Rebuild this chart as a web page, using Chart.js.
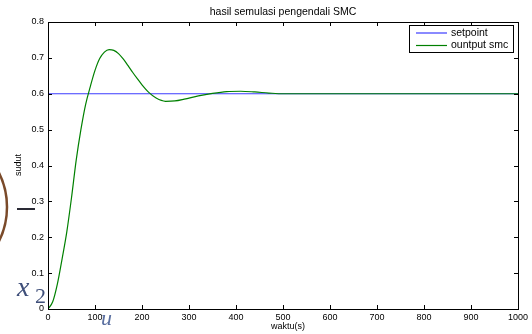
<!DOCTYPE html>
<html lang="en">
  <head>
    <meta charset="UTF-8" />
    <title>hasil semulasi pengendali SMC</title>
    <style>
      html, body { margin: 0; padding: 0; background: #fff; }
      #wrap { width: 532px; height: 334px; }
    </style>
  </head>
  <body>
    <div id="wrap"><canvas id="mychart" width="532" height="334"></canvas></div>

    <script src="https://cdn.jsdelivr.net/npm/chart.js@4.4.1/dist/chart.umd.min.js"></script>
    <script>
      // waktu (s) dan keluaran SMC
      const waktu = [0, 10, 20, 30, 40, 50, 60, 70, 80, 90, 100, 110, 120, 130, 140, 150, 160, 170, 180, 190, 200, 215, 230, 250, 270, 290, 320, 350, 380, 410, 440, 470, 500, 600, 700, 800, 900, 1000];
      const output = [0, 0.02, 0.07, 0.14, 0.215, 0.31, 0.415, 0.5, 0.57, 0.62, 0.665, 0.698, 0.716, 0.723, 0.721, 0.712, 0.697, 0.679, 0.66, 0.642, 0.625, 0.603, 0.588, 0.579, 0.58, 0.585, 0.594, 0.601, 0.606, 0.607, 0.605, 0.602, 0.6, 0.6, 0.6, 0.6, 0.6, 0.6];
      const setpointWaktu = [0, 1000];
      const setpointNilai = [0.6, 0.6];
      const xTicks = [0, 100, 200, 300, 400, 500, 600, 700, 800, 900, 1000];
      const yTicks = [0, 0.1, 0.2, 0.3, 0.4, 0.5, 0.6, 0.7, 0.8];

      const toPoints = (xs, ys) => xs.map((x, i) => ({ x: x, y: ys[i] }));

      // bingkai + tick ke dalam ala MATLAB, judul, label sumbu, legenda
      const matlabFrame = {
        id: "matlabFrame",
        beforeDraw(chart) {
          const ctx = chart.ctx;
          ctx.save();
          // sisa gambar persamaan di belakang grafik
          ctx.strokeStyle = "#7a4a2a";
          ctx.lineWidth = 2.5;
          ctx.beginPath();
          ctx.arc(-69.6, 207, 76.6, -0.6, 0.6);
          ctx.stroke();
          ctx.fillStyle = "#2a2a35";
          ctx.fillRect(17, 208, 18, 2);
          ctx.fillStyle = "#3f4f7a";
          ctx.textBaseline = "alphabetic";
          ctx.font = "italic 28px 'Liberation Serif', serif";
          ctx.fillText("x", 17, 296);
          ctx.font = "22px 'Liberation Serif', serif";
          ctx.fillText("2", 35, 303);
          ctx.font = "italic 22px 'Liberation Serif', serif";
          ctx.fillStyle = "#5a6fa0";
          ctx.fillText("u", 101, 325);
          ctx.restore();
        },
        afterDraw(chart) {
          const ctx = chart.ctx;
          const a = chart.chartArea;
          const xs = chart.scales.x;
          const ys = chart.scales.y;
          ctx.save();
          ctx.strokeStyle = "#000";
          ctx.lineWidth = 1;
          ctx.strokeRect(Math.round(a.left) + 0.5, Math.round(a.top) + 0.5, Math.round(a.right - a.left), Math.round(a.bottom - a.top));
          ctx.beginPath();
          xTicks.forEach((v) => {
            const px = Math.round(xs.getPixelForValue(v)) + 0.5;
            ctx.moveTo(px, a.bottom);
            ctx.lineTo(px, a.bottom - 4);
            ctx.moveTo(px, a.top);
            ctx.lineTo(px, a.top + 4);
          });
          yTicks.forEach((v) => {
            const py = Math.round(ys.getPixelForValue(v)) + 0.5;
            ctx.moveTo(a.left, py);
            ctx.lineTo(a.left + 4, py);
            ctx.moveTo(a.right, py);
            ctx.lineTo(a.right - 4, py);
          });
          ctx.stroke();

          ctx.fillStyle = "#000";
          ctx.textAlign = "center";
          ctx.textBaseline = "middle";
          ctx.font = "10.5px 'Liberation Sans', Arial, sans-serif";
          ctx.fillText("hasil semulasi pengendali SMC", (a.left + a.right) / 2, 12);
          ctx.font = "9px 'Liberation Sans', Arial, sans-serif";
          ctx.fillText("waktu(s)", 288, 327);
          ctx.save();
          ctx.translate(19, 165);
          ctx.rotate(-Math.PI / 2);
          ctx.fillText("sudut", 0, 0);
          ctx.restore();

          // legenda
          ctx.fillStyle = "#fff";
          ctx.fillRect(409.5, 25.5, 104, 27);
          ctx.strokeStyle = "#000";
          ctx.lineWidth = 1;
          ctx.strokeRect(409.5, 25.5, 104, 27);
          ctx.lineWidth = 1.2;
          ctx.strokeStyle = "rgb(60,60,255)";
          ctx.beginPath();
          ctx.moveTo(416, 33);
          ctx.lineTo(447, 33);
          ctx.stroke();
          ctx.strokeStyle = "rgb(0,128,0)";
          ctx.beginPath();
          ctx.moveTo(416, 45.5);
          ctx.lineTo(447, 45.5);
          ctx.stroke();
          ctx.fillStyle = "#000";
          ctx.textAlign = "left";
          ctx.font = "10.5px 'Liberation Sans', Arial, sans-serif";
          ctx.fillText("setpoint", 451, 33);
          ctx.fillText("ountput smc", 451, 45.5);
          ctx.restore();
        },
      };

      new Chart(document.getElementById("mychart"), {
        type: "line",
        data: {
          datasets: [
            {
              label: "setpoint",
              data: toPoints(setpointWaktu, setpointNilai),
              borderColor: "rgb(60,60,255)",
              borderWidth: 1.2,
              pointRadius: 0,
              tension: 0,
              order: 2,
            },
            {
              label: "ountput smc",
              data: toPoints(waktu, output),
              borderColor: "rgb(0,128,0)",
              borderWidth: 1.2,
              pointRadius: 0,
              cubicInterpolationMode: "monotone",
              order: 1,
            },
          ],
        },
        options: {
          responsive: false,
          animation: false,
          layout: { padding: { top: 22, right: 14, left: 0, bottom: 0 } },
          plugins: {
            legend: { display: false },
            tooltip: { enabled: false },
          },
          scales: {
            x: {
              type: "linear",
              min: 0,
              max: 1000,
              grid: { display: false, tickLength: 0 },
              border: { display: false },
              afterBuildTicks: (s) => { s.ticks = xTicks.map((v) => ({ value: v })); },
              afterFit: (s) => { s.height = 25; },
              ticks: {
                padding: 3,
                color: "#000",
                maxRotation: 0,
                font: { size: 9, family: "'Liberation Sans', Arial, sans-serif" },
                callback: (v) => String(v),
              },
            },
            y: {
              min: 0,
              max: 0.8,
              grid: { display: false, tickLength: 0 },
              border: { display: false },
              afterBuildTicks: (s) => { s.ticks = yTicks.map((v) => ({ value: v })); },
              afterFit: (s) => { s.width = 48; },
              ticks: {
                padding: 4,
                color: "#000",
                font: { size: 9, family: "'Liberation Sans', Arial, sans-serif" },
                callback: (v) => (v === 0 ? "0" : v.toFixed(1)),
              },
            },
          },
        },
        plugins: [matlabFrame],
      });
    </script>
  </body>
</html>
